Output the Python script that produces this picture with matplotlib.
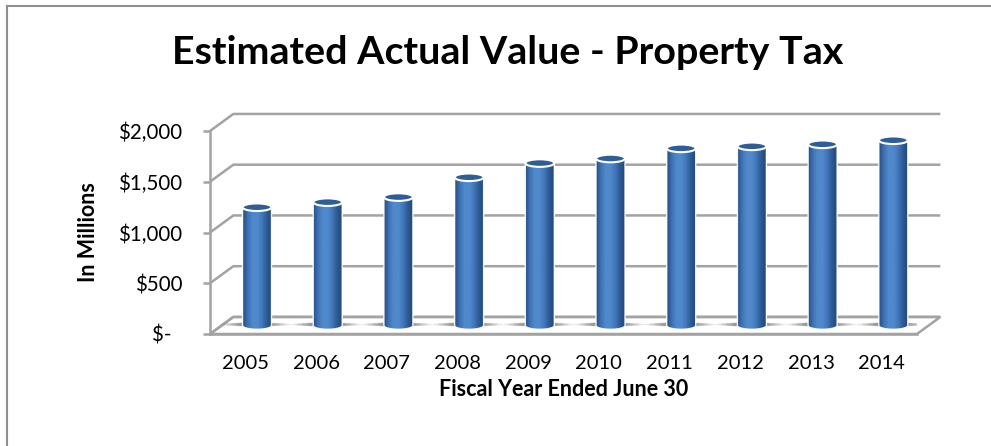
import numpy as np
import matplotlib.pyplot as plt
from matplotlib.patches import Ellipse, Polygon, PathPatch
from matplotlib.path import Path
from matplotlib.colors import LinearSegmentedColormap
from matplotlib.lines import Line2D

# Chart data
years = ['2005', '2006', '2007', '2008', '2009', '2010', '2011', '2012', '2013', '2014']
values = [1165, 1215, 1265, 1460, 1600, 1645, 1745, 1765, 1785, 1825]
y_ticks = [0, 500, 1000, 1500, 2000]
y_tick_labels = ['$-  ', '$500', '$1,000', '$1,500', '$2,000']

plt.rcParams['font.family'] = ['Lato', 'DejaVu Sans']

W, H = 991, 446
fig = plt.figure(figsize=(W / 100, H / 100), dpi=100)

# front plane of the 3d box in pixels
left_px, right_px, zero_px, top_px = 210, 917, 334, 131
ax = fig.add_axes([left_px / W, (H - zero_px) / H,
                   (right_px - left_px) / W, (zero_px - top_px) / H])
ax.patch.set_visible(False)

# depth offset of the back wall (in data units)
DX = 0.33
DY = 168
grid_col = '#a3a3a3'

x0, x1 = -0.5, len(years) - 0.5

# floor
floor = Polygon([(x0, 0), (x1, 0), (x1 + DX, DY), (x0 + DX, DY)], closed=True,
                facecolor='white', edgecolor=grid_col, lw=1.8, clip_on=False, zorder=1)
ax.add_patch(floor)

# gridlines on left wall + back wall
for v in y_ticks:
    ax.plot([x0, x0 + DX, x1 + DX], [v, v + DY, v + DY], color=grid_col, lw=1.8,
            clip_on=False, zorder=1, solid_capstyle='butt')

# cylinders
cmap = LinearSegmentedColormap.from_list(
    'cyl', ['#264f86', '#3f72b3', '#5089cc', '#5089cc', '#4277ba', '#2c5b94', '#23487a'])
grad = np.linspace(0, 1, 64).reshape(1, -1)
bw = 0.41
eh = 75
base = DY / 2
t = np.linspace(np.pi, 2 * np.pi, 40)

for i, v in enumerate(values):
    cx = i + DX / 2
    top = base + v

    # soft shadow on the floor
    for sw, sa in [(1.0, 0.16), (0.85, 0.22), (0.7, 0.28), (0.55, 0.32)]:
        ax.add_patch(Ellipse((cx - 0.02, base + 10), sw, 40, facecolor='#6a6a6a',
                             edgecolor='none', alpha=sa, zorder=2))

    arc_x = cx + bw / 2 * np.cos(t)
    arc_y = base + eh / 2 * np.sin(t)
    verts = [(cx - bw / 2, top)] + list(zip(arc_x, arc_y)) + [(cx + bw / 2, top), (cx - bw / 2, top)]
    codes = [Path.MOVETO] + [Path.LINETO] * (len(verts) - 2) + [Path.CLOSEPOLY]
    body_path = Path(verts, codes)

    body = PathPatch(body_path, facecolor='none', edgecolor='none', zorder=3)
    ax.add_patch(body)
    im = ax.imshow(grad, cmap=cmap, aspect='auto', interpolation='bicubic',
                   extent=[cx - bw / 2, cx + bw / 2, base - eh / 2, top], zorder=3)
    im.set_clip_path(body)
    ax.add_patch(PathPatch(body_path, facecolor='none', edgecolor='white', lw=1.0,
                           alpha=0.9, zorder=4))
    ax.add_patch(Ellipse((cx, top), bw, eh, facecolor='#2f5d97', edgecolor='white',
                         lw=1.5, zorder=5))

ax.set_xlim(x0, x1)
ax.set_ylim(0, 2000)

# axes styling
for s in ['top', 'right', 'bottom']:
    ax.spines[s].set_visible(False)
ax.spines['left'].set_color(grid_col)
ax.spines['left'].set_linewidth(1.8)
ax.plot([x0, x1], [0, 0], color=grid_col, lw=1.8, clip_on=False, zorder=6)

ax.set_yticks(y_ticks)
ax.set_yticklabels(y_tick_labels)
ax.tick_params(axis='y', length=5, width=1.8, color=grid_col, pad=15, labelsize=14.8)
ax.set_xticks(range(len(years)))
ax.set_xticklabels(years)
ax.tick_params(axis='x', length=0, pad=15, labelsize=14.5)

ax.set_ylabel('In Millions', fontsize=15.5, fontweight='bold', labelpad=14)
ax.set_xlabel('Fiscal Year Ended June 30', fontsize=15.5, fontweight='bold', labelpad=5)

fig.text(508 / W, 1 - 52 / H, 'Estimated Actual Value - Property Tax', fontsize=28.4,
         fontweight='bold', ha='center', va='center')

# outer border (left and top edges visible)
fig.add_artist(Line2D([7 / W, 7 / W], [0, 1 - 6 / H], color='#8f8f8f', lw=1.5))
fig.add_artist(Line2D([7 / W, 1], [1 - 6 / H, 1 - 6 / H], color='#8f8f8f', lw=1.5))

fig.savefig('out.png', dpi=100)
plt.close(fig)
